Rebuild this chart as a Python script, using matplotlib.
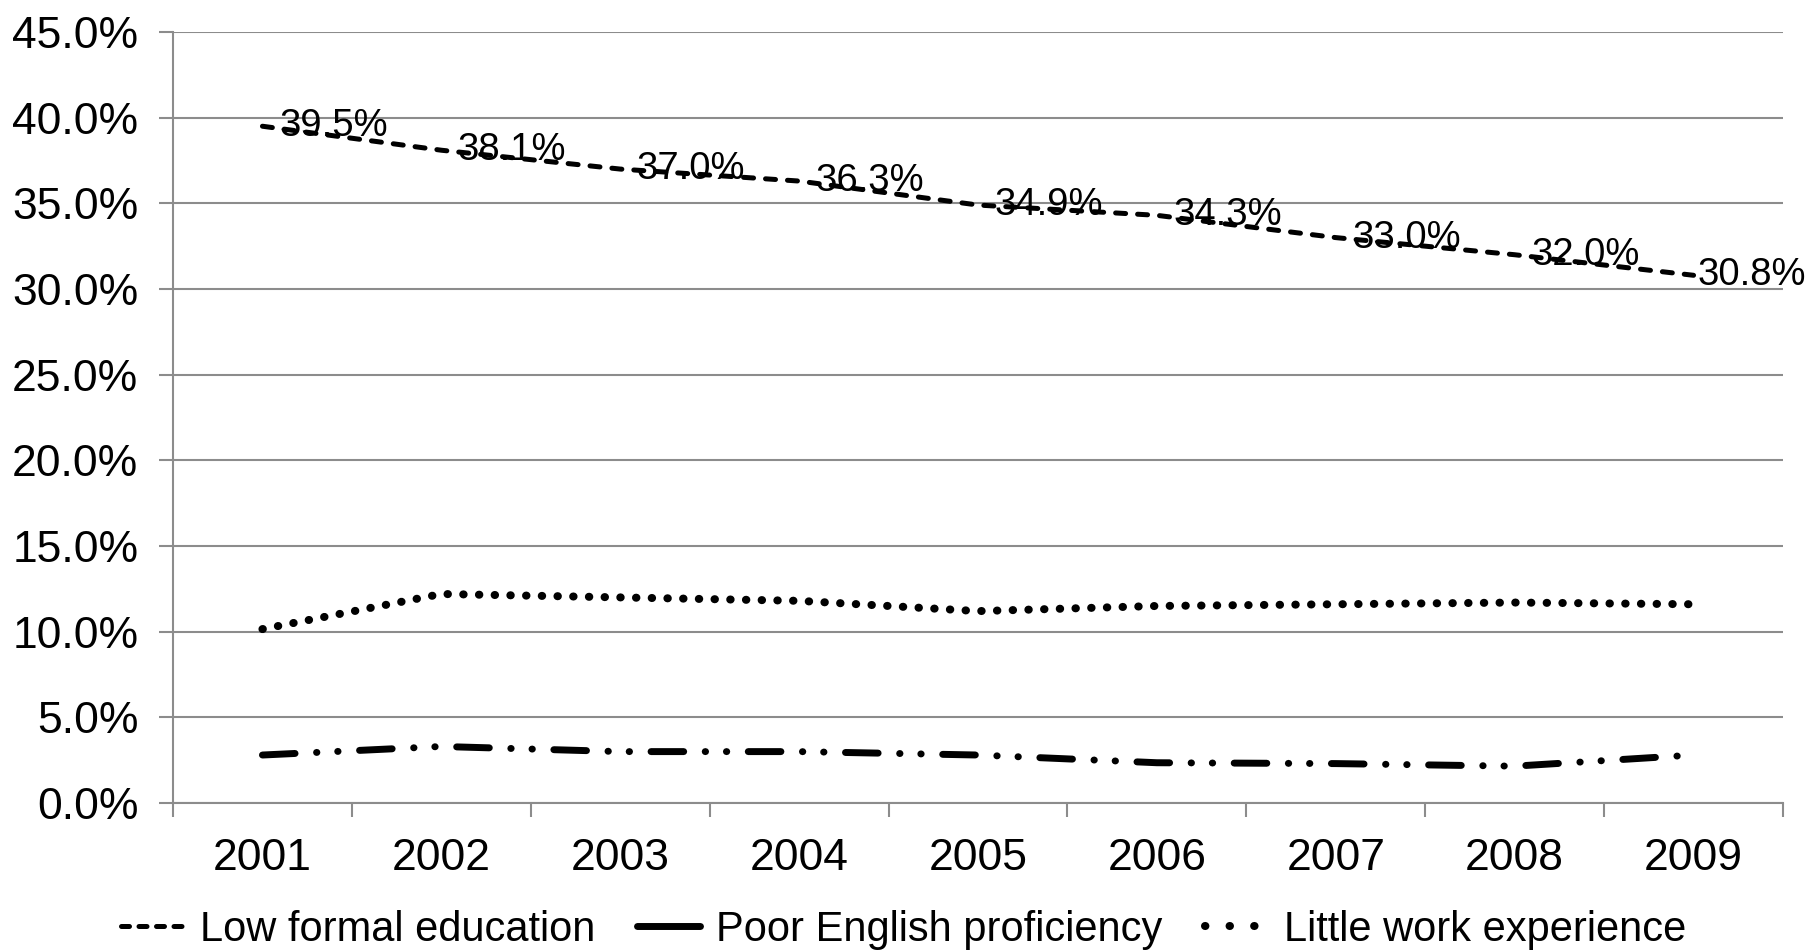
import numpy as np
import matplotlib.pyplot as plt
from matplotlib.lines import Line2D
from matplotlib.ticker import FixedLocator, PercentFormatter

plt.rcParams['font.family'] = ['Liberation Sans', 'DejaVu Sans']

years = ["2001", "2002", "2003", "2004", "2005", "2006", "2007", "2008", "2009"]
low_formal = [39.5, 38.1, 37.0, 36.3, 34.9, 34.3, 33.0, 32.0, 30.8]
poor_english = [2.8, 3.3, 3.0, 3.0, 2.8, 2.35, 2.3, 2.15, 2.8]
little_work = [10.15, 12.2, 12.0, 11.8, 11.2, 11.5, 11.6, 11.7, 11.6]
names = ["Low formal education", "Poor English proficiency", "Little work experience"]

fig = plt.figure(figsize=(18.07, 9.51), dpi=100)
ax = fig.add_axes([173 / 1807, 1 - 803 / 951, (1783 - 173) / 1807, (803 - 32) / 951])

x = np.arange(len(years))
grid_c = "#8c8c8c"

ls_low = (0, (2.0, 2.4))
ls_poor = (0, (4.7, 3.1, 0.05, 3.0, 0.05, 3.1))
ls_little = (0, (0.05, 1.9))

ax.plot(x, low_formal, color="black", lw=3.6, linestyle=ls_low,
        dash_capstyle="round", zorder=3)
ax.plot(x, poor_english, color="black", lw=5.0, linestyle=ls_poor,
        dash_capstyle="round", zorder=3)
ax.plot(x, little_work, color="black", lw=5.8, linestyle=ls_little,
        dash_capstyle="round", zorder=3)

for i, (xi, v) in enumerate(zip(x, low_formal)):
    off = 12 if i < len(x) - 1 else 3
    ax.annotate(f"{v:.1f}%", (xi, v), xytext=(off, 0), textcoords="offset points",
                ha="left", va="center", fontsize=27.5, zorder=4)

ax.set_xlim(-0.5, len(years) - 0.5)
ax.set_ylim(0, 45)
ax.set_yticks(np.arange(0, 46, 5))
ax.yaxis.set_major_formatter(PercentFormatter(decimals=1))
ax.set_xticks(x)
ax.set_xticklabels(years)
ax.xaxis.set_minor_locator(FixedLocator(np.arange(-0.5, len(years), 1)))
ax.tick_params(axis="x", which="major", length=0, pad=25, labelsize=32)
ax.tick_params(axis="x", which="minor", length=10, width=1.5, color=grid_c)
ax.tick_params(axis="y", length=10, width=1.5, color=grid_c, labelsize=32, pad=15)

ax.grid(axis="y", color=grid_c, lw=1.5)
ax.set_axisbelow(True)
for s in ["top", "right"]:
    ax.spines[s].set_visible(False)
for s in ["left", "bottom"]:
    ax.spines[s].set_color(grid_c)
    ax.spines[s].set_linewidth(1.5)

handles = [
    Line2D([], [], color="black", lw=3.6, linestyle=(0, (1.6, 1.9)), dash_capstyle="round"),
    Line2D([], [], color="black", lw=5.0, solid_capstyle="round"),
    Line2D([], [], color="black", lw=5.8, linestyle=(0, (0.05, 3.0)), dash_capstyle="round"),
]
fig.legend(handles, names, loc="center", bbox_to_anchor=(0.5, 0.022), ncol=3, frameon=False,
           fontsize=30, handlelength=1.5, handletextpad=0.4, columnspacing=1.0,
           borderpad=0)

fig.savefig("out.png", dpi=100)
